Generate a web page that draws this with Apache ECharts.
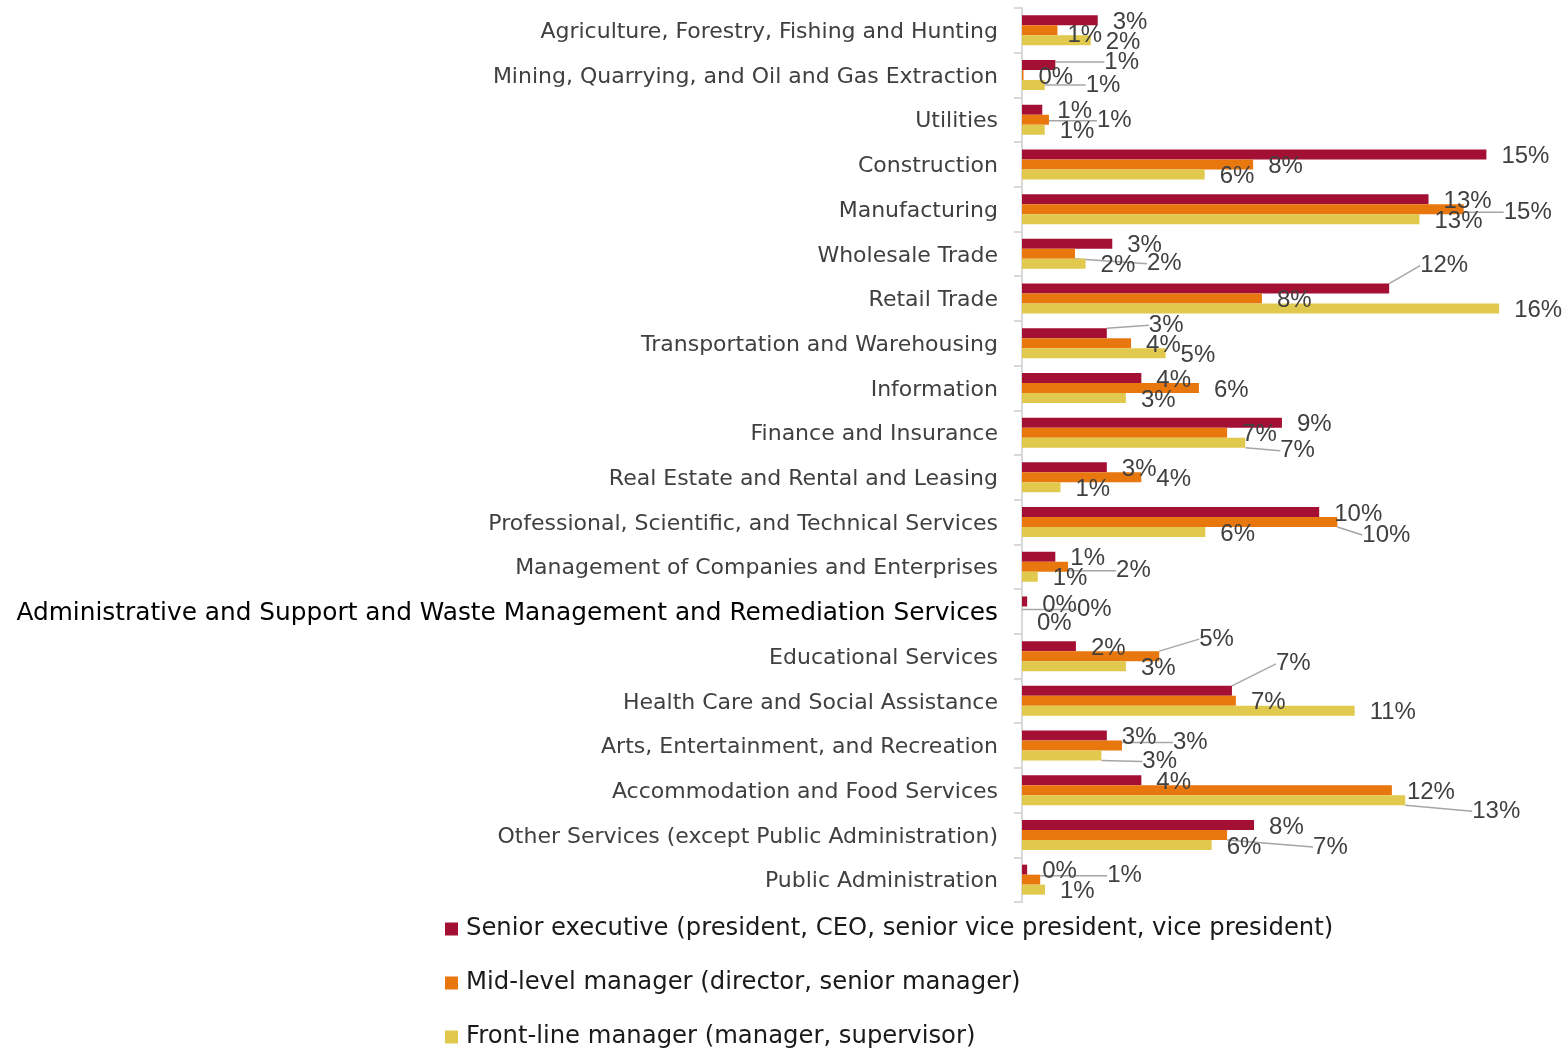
<!DOCTYPE html>
<html>
<head>
<meta charset="utf-8">
<script src="https://cdn.jsdelivr.net/npm/echarts@6/dist/echarts.min.js"></script>
<style>
  html, body { margin: 0; padding: 0; background: #fff; }
  #chart { width: 1568px; height: 1050px; }
</style>
</head>
<body>
<div id="chart"></div>
<script>
var industries = [
  "Agriculture, Forestry, Fishing and Hunting",
  "Mining, Quarrying, and Oil and Gas Extraction",
  "Utilities",
  "Construction",
  "Manufacturing",
  "Wholesale Trade",
  "Retail Trade",
  "Transportation and Warehousing",
  "Information",
  "Finance and Insurance",
  "Real Estate and Rental and Leasing",
  "Professional, Scientific, and Technical Services",
  "Management of Companies and Enterprises",
  "Administrative and Support and Waste Management and Remediation Services",
  "Educational Services",
  "Health Care and Social Assistance",
  "Arts, Entertainment, and Recreation",
  "Accommodation and Food Services",
  "Other Services (except Public Administration)",
  "Public Administration"
];
var seriesNames = [
  "Senior executive (president, CEO, senior vice president, vice president)",
  "Mid-level manager (director, senior manager)",
  "Front-line manager (manager, supervisor)"
];
// percentages
var senior = [2.5, 1.1, 0.67, 15.33, 13.42, 2.98, 12.12, 2.8, 3.94, 8.58, 2.8, 9.81, 1.1, 0.17, 1.78, 6.93, 2.8, 3.94, 7.66, 0.17];
var midLevel = [1.17, 0.05, 0.89, 7.63, 14.58, 1.75, 7.92, 3.6, 5.84, 6.77, 3.94, 10.41, 1.52, 0, 4.53, 7.06, 3.3, 12.21, 6.77, 0.6];
var frontLine = [2.27, 0.75, 0.75, 6.03, 13.12, 2.1, 15.75, 4.74, 3.43, 7.37, 1.27, 6.05, 0.52, 0, 3.43, 10.98, 2.62, 12.65, 6.26, 0.76];

var colors = ["#A31034", "#E8770E", "#E1C94E"];

// label moves (series-category): [dx, dy, leader line]
var callouts = {
  "1-0": [-5, 3, false],
  "0-1": [34, -5, true],
  "2-1": [26, -2, true],
  "1-2": [33, -1, true],
  "1-4": [25, 1, true],
  "1-5": [57, 8, true],
  "0-6": [16, -25, true],
  "0-7": [27, -10, true],
  "2-9": [20, 6, true],
  "1-11": [10, 11, true],
  "1-12": [33, 2, true],
  "0-13": [0, 2, false],
  "1-13": [40, -4, true],
  "1-14": [25, -19, true],
  "0-15": [29, -29, true],
  "1-16": [36, -5, true],
  "2-16": [26, 4, true],
  "2-17": [52, 9, true],
  "1-18": [71, 10, true],
  "1-19": [52, -6, true]
};

function buildData(values, si) {
  return values.map(function (v, i) {
    var c = callouts[si + "-" + i];
    if (c && c[2]) {
      return { value: v, labelLine: { show: true } };
    }
    return v;
  });
}

var allValues = [senior, midLevel, frontLine];
var series = allValues.map(function (vals, si) {
  return {
    name: seriesNames[si],
    type: "bar",
    data: buildData(vals, si),
    barWidth: 10,
    barGap: "0%",
    itemStyle: { color: colors[si] },
    label: {
      show: true,
      position: "right",
      distance: 15,
      fontFamily: "Liberation Sans",
      fontSize: 24,
      color: "#404040",
      formatter: function (p) {
        return Math.round(p.value) + "%";
      }
    },
    labelLine: {
      show: false,
      lineStyle: { color: "#a6a6a6", width: 1.5 }
    },
    labelLayout: function (p) {
      var c = callouts[p.seriesIndex + "-" + p.dataIndex];
      return c ? { dx: c[0], dy: c[1] + 2 } : { dy: 2 };
    }
  };
});

var chart = echarts.init(document.getElementById("chart"));
chart.setOption({
  animation: false,
  grid: { left: 1022, top: 8, bottom: 148, right: 31, containLabel: false },
  legend: {
    orient: "vertical",
    left: 445,
    top: 917,
    height: 300,
    padding: 0,
    itemWidth: 13,
    itemHeight: 13,
    itemGap: 30,
    icon: "rect",
    textStyle: { fontFamily: "DejaVu Sans", fontSize: 24.3, color: "#1a1a1a", padding: [0, 0, 0, 3] },
    data: seriesNames
  },
  xAxis: { type: "value", min: 0, max: 17, show: false },
  yAxis: {
    type: "category",
    inverse: true,
    data: industries,
    axisLine: { lineStyle: { color: "#d9d9d9", width: 2 } },
    axisTick: { show: true, length: 8, lineStyle: { color: "#d9d9d9", width: 2 } },
    axisLabel: {
      margin: 24,
      padding: [4, 0, 0, 0],
      fontFamily: "DejaVu Sans",
      fontSize: 22,
      color: "#404040",
      formatter: function (v) {
        return v.indexOf("Administrative") === 0 ? "{big|" + v + "}" : v;
      },
      rich: {
        big: { fontFamily: "DejaVu Sans", fontSize: 24.8, color: "#000" }
      }
    }
  },
  series: series
});
</script>
</body>
</html>
